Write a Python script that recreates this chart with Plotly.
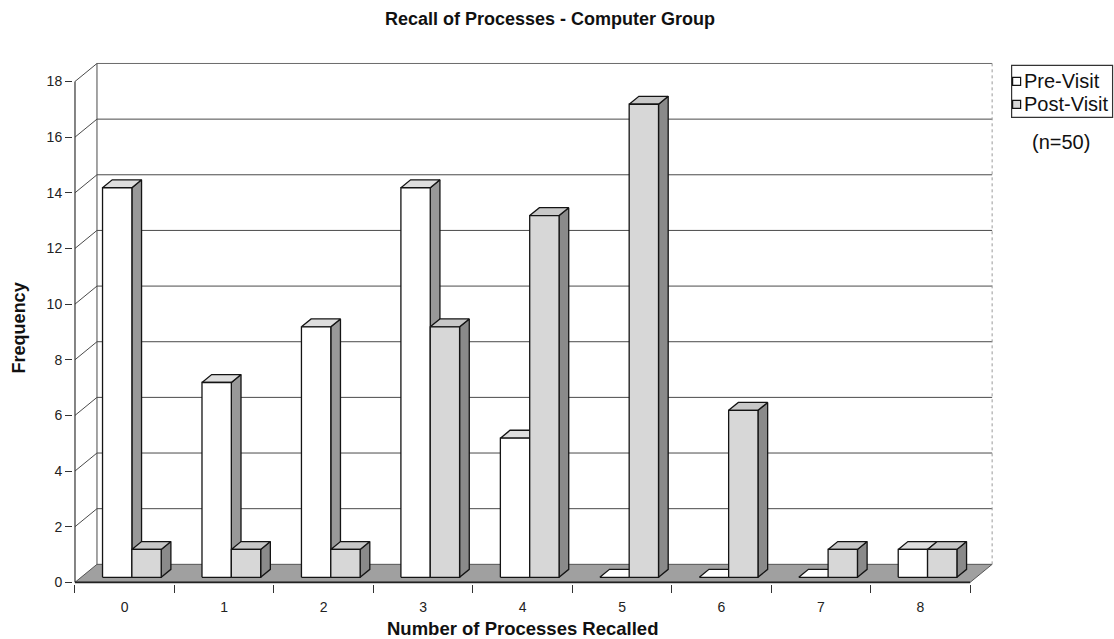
import plotly.graph_objects as go

# ---- data ----
categories = ["0", "1", "2", "3", "4", "5", "6", "7", "8"]
pre_visit = [14, 7, 9, 14, 5, 0, 0, 0, 1]
post_visit = [1, 1, 1, 9, 13, 17, 6, 1, 1]
y_ticks = [0, 2, 4, 6, 8, 10, 12, 14, 16, 18]
series_names = ["Pre-Visit", "Post-Visit"]

# ---- geometry of the pseudo-3D box ----
W, H = 1114, 639
X0_PX = 75          # pixel of x = 0 (front axis)
PX_X = 99.5         # pixels per category
Y0_PX = 582         # pixel of y = 0 (front floor edge)
PX_Y = 27.83        # pixels per frequency unit
X_MIN, X_MAX = -0.02, 9.25
Y_MIN, Y_MAX = -0.06, 18.7

margin_l = X0_PX + X_MIN * PX_X
plot_w = (X_MAX - X_MIN) * PX_X
margin_r = W - margin_l - plot_w
margin_b = H - (Y0_PX - Y_MIN * PX_Y)
plot_h = (Y_MAX - Y_MIN) * PX_Y
margin_t = H - margin_b - plot_h

DX = 22 / PX_X      # depth offset of the back wall, in x units
DY = 18 / PX_Y      # depth offset of the back wall, in y units
N = len(categories)
TOP = max(y_ticks)

# bars occupy the middle of the depth
F_D, B_D = 0.28, 0.72
BAR_SLOTS = [(0.215, 0.51), (0.51, 0.805)]

FACE_COLORS = [
    {"front": "#ffffff", "top": "#dedede", "side": "#999999"},
    {"front": "#d7d7d7", "top": "#c8c8c8", "side": "#8a8a8a"},
]
EDGE = "#141414"
GRID = "#4a4a4a"
FONT = "Liberation Sans, Arial, Helvetica, sans-serif"


def px_to_paper_x(px):
    return (px - margin_l) / plot_w


def px_to_paper_y(py):
    return (H - margin_b - py) / plot_h


fig = go.Figure()


def polygon(xs, ys, fill, width=1.3, color=EDGE):
    fig.add_trace(go.Scatter(
        x=xs + [xs[0]], y=ys + [ys[0]], mode="lines", fill="toself",
        fillcolor=fill, line=dict(color=color, width=width),
        hoverinfo="skip", showlegend=False))


def line(xs, ys, color=GRID, width=1, dash="solid"):
    fig.add_trace(go.Scatter(
        x=xs, y=ys, mode="lines", line=dict(color=color, width=width, dash=dash),
        hoverinfo="skip", showlegend=False))


# floor
polygon([0, N, N + DX, DX], [0, 0, DY, DY], "#a0a0a0", width=1, color="#555555")

# back wall and side wall grid lines
for v in y_ticks[1:]:
    line([DX, N + DX], [v + DY, v + DY],
         color="#6a6a6a" if v == TOP else GRID, width=1)
    line([0, DX], [v, v + DY])
line([DX, DX], [DY, TOP + DY])
line([N + DX, N + DX], [DY, TOP + DY], color="#9a9a9a", dash="dot")

# front axes
line([0, 0], [0, TOP], color="#333333", width=1.2)
line([0, N], [0, 0], color="#222222", width=1.6)

# bars, drawn left to right so nearer faces cover hidden ones
fx, fy = F_D * DX, F_D * DY
bx, by = B_D * DX, B_D * DY
for i in range(N):
    for s, vals in enumerate([pre_visit, post_visit]):
        v = vals[i]
        xl = i + BAR_SLOTS[s][0]
        xr = i + BAR_SLOTS[s][1]
        c = FACE_COLORS[s]
        if v > 0:
            polygon([xr + fx, xr + bx, xr + bx, xr + fx],
                    [fy, by, v + by, v + fy], c["side"])
        polygon([xl + fx, xr + fx, xr + bx, xl + bx],
                [v + fy, v + fy, v + by, v + by],
                c["top"] if v > 0 else c["front"])
        if v > 0:
            polygon([xl + fx, xr + fx, xr + fx, xl + fx],
                    [fy, fy, v + fy, v + fy], c["front"])

# ---- legend (drawn as a boxed key) ----
shapes = [dict(type="rect", xref="paper", yref="paper",
               x0=px_to_paper_x(1012), x1=px_to_paper_x(1113),
               y0=px_to_paper_y(117), y1=px_to_paper_y(65),
               line=dict(color="#333333", width=1.2), fillcolor="rgba(0,0,0,0)")]
annotations = []
for k, (name, yc) in enumerate(zip(series_names, [81, 104])):
    shapes.append(dict(type="rect", xref="paper", yref="paper",
                       x0=px_to_paper_x(1013), x1=px_to_paper_x(1021),
                       y0=px_to_paper_y(yc + 4), y1=px_to_paper_y(yc - 4),
                       line=dict(color="#111111", width=1.2),
                       fillcolor=FACE_COLORS[k]["front"]))
    annotations.append(dict(text=name, xref="paper", yref="paper",
                            x=px_to_paper_x(1022), y=px_to_paper_y(yc),
                            xanchor="left", yanchor="middle", showarrow=False,
                            font=dict(family=FONT, size=20, color="#111111")))

annotations += [
    dict(text="(n=50)", xref="paper", yref="paper",
         x=px_to_paper_x(1061), y=px_to_paper_y(142),
         xanchor="center", yanchor="middle", showarrow=False,
         font=dict(family=FONT, size=20, color="#111111")),
    dict(text="<b>Recall of Processes - Computer Group</b>", xref="paper", yref="paper",
         x=px_to_paper_x(550), y=px_to_paper_y(19),
         xanchor="center", yanchor="middle", showarrow=False,
         font=dict(family=FONT, size=18, color="#111111")),
    dict(text="<b>Number of Processes Recalled</b>", xref="paper", yref="paper",
         x=px_to_paper_x(523), y=px_to_paper_y(628),
         xanchor="center", yanchor="middle", showarrow=False,
         font=dict(family=FONT, size=18.5, color="#111111")),
    dict(text="<b>Frequency</b>", xref="paper", yref="paper",
         x=px_to_paper_x(19), y=px_to_paper_y(328), textangle=-90,
         xanchor="center", yanchor="middle", showarrow=False,
         font=dict(family=FONT, size=18, color="#111111")),
]

fig.update_layout(
    width=W, height=H,
    margin=dict(l=margin_l, r=margin_r, t=margin_t, b=margin_b, autoexpand=False),
    paper_bgcolor="white", plot_bgcolor="white",
    showlegend=False,
    shapes=shapes, annotations=annotations,
    xaxis=dict(range=[X_MIN, X_MAX], showgrid=False, zeroline=False, showline=False,
               tickmode="array", tickvals=[i + 0.5 for i in range(N)], ticktext=categories,
               ticks="", ticklabelstandoff=13,
               tickfont=dict(family=FONT, size=14, color="#222222"),
               minor=dict(tickmode="array", tickvals=list(range(N + 1)), ticks="outside",
                          ticklen=8, tickwidth=1, tickcolor="#333333", showgrid=False),
               fixedrange=True),
    yaxis=dict(range=[Y_MIN, Y_MAX], showgrid=False, zeroline=False, showline=False,
               tickmode="array", tickvals=y_ticks, ticks="outside", ticklen=7,
               tickwidth=1, tickcolor="#333333",
               tickfont=dict(family=FONT, size=14, color="#222222"),
               fixedrange=True),
)

fig.write_html("out.html")
